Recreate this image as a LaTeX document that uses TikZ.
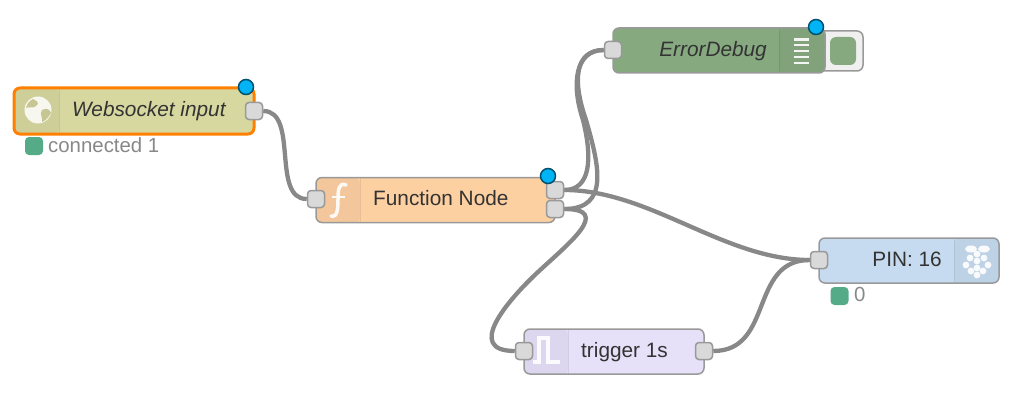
\documentclass[tikz,border=0pt]{standalone}
\usepackage{fontspec}
\setmainfont{Liberation Sans}
\usepackage{xcolor}
\usetikzlibrary{backgrounds}
\definecolor{wireGray}{HTML}{888888}
\definecolor{edgeGray}{HTML}{999999}
\definecolor{portGray}{HTML}{D9D9D9}
\definecolor{textDark}{HTML}{333333}
\definecolor{dotBlue}{HTML}{00B4F5}
\definecolor{statusGreen}{HTML}{55AA88}
\definecolor{wsFill}{HTML}{D7D7A0}
\definecolor{fnFill}{HTML}{FDD0A2}
\definecolor{dbgFill}{HTML}{87A980}
\definecolor{pinFill}{HTML}{C6DBEF}
\definecolor{trigFill}{HTML}{E6E0F8}

\begin{document}
\begin{tikzpicture}[
  x=1pt, y=-1pt,
  baseNode/.style={rectangle, rounded corners=6pt, draw=edgeGray, line width=1.5pt, inner sep=0pt, minimum height=45pt},
  iconLeft/.style={path picture={
    \fill[black, opacity=.04] (path picture bounding box.north west) rectangle ++(#1,46);
    \draw[black, opacity=.08, line width=1pt] (path picture bounding box.north west) ++(#1,0) -- ++(0,46);}},
  iconRight/.style={path picture={
    \fill[black, opacity=.04] (path picture bounding box.north east) rectangle ++(-#1,46);
    \draw[black, opacity=.08, line width=1pt] (path picture bounding box.north east) ++(-#1,0) -- ++(0,46);}},
  port/.style={rectangle, rounded corners=3.5pt, draw=edgeGray, fill=portGray, line width=1.5pt, inner sep=0pt, minimum size=17pt},
  changedDot/.style={circle, draw=black!55!dotBlue, fill=dotBlue, line width=1.5pt, inner sep=0pt, minimum size=15pt},
  statusDot/.style={rectangle, rounded corners=4pt, fill=statusGreen, inner sep=0pt, minimum size=18pt},
  nodeText/.style={font=\fontsize{20.8}{24}\selectfont, text=textDark, inner sep=0pt, text height=15pt, text depth=4pt},
  statusText/.style={font=\fontsize{20.4}{24}\selectfont, text=wireGray, inner sep=0pt, text height=14pt, text depth=4pt},
  wire/.style={draw=wireGray, line width=4.3pt},
  iconLine/.style={white, line width=3.5pt, opacity=.9}
]
\useasboundingbox (0,0) rectangle (1032,417);

% debug button sits behind the node
\node[rectangle, rounded corners=6pt, draw=edgeGray, fill=black!6, line width=1.5pt, minimum width=50pt, minimum height=40pt, inner sep=0pt] (dbgButton) at (838,51) {};
\node[rectangle, rounded corners=6pt, fill=dbgFill, minimum width=26pt, minimum height=28pt, inner sep=0pt] (dbgButtonFill) at (843,51) {};

\node[baseNode, fill=wsFill, draw=orange, line width=3pt, minimum width=240pt, minimum height=46pt, iconLeft=45] (ws) at (134,111) {};
\node[baseNode, fill=fnFill, minimum width=239pt, iconLeft=44] (fn) at (435.5,200) {};
\node[baseNode, fill=dbgFill, minimum width=212pt, iconRight=46] (dbg) at (719,50.5) {};
\node[baseNode, fill=pinFill, minimum width=180pt, iconRight=45] (pin) at (909,260.5) {};
\node[baseNode, fill=trigFill, minimum width=180pt, iconLeft=44] (trig) at (614,351.5) {};

\node[nodeText, anchor=west, font=\fontsize{20.8}{24}\selectfont\itshape] (wsLabel) at (72,111) {Websocket input};
\node[nodeText, anchor=west] (fnLabel) at (373,200) {Function Node};
\node[nodeText, anchor=east, font=\fontsize{20.8}{24}\selectfont\itshape] (dbgLabel) at (767,51) {ErrorDebug};
\node[nodeText, anchor=east] (pinLabel) at (942,261) {PIN: 16};
\node[nodeText, anchor=west] (trigLabel) at (581,352) {trigger 1s};

\node[port] (wsOut) at (254,111) {};
\node[port] (fnIn) at (316,199) {};
\node[port] (fnOutA) at (555,190) {};
\node[port] (fnOutB) at (555,209) {};
\node[port] (dbgIn) at (613,50) {};
\node[port] (pinIn) at (819,260) {};
\node[port] (trigIn) at (524,351) {};
\node[port] (trigOut) at (704,351) {};

\node[changedDot] (wsDot) at (246,87) {};
\node[changedDot] (fnDot) at (548,176) {};
\node[changedDot] (dbgDot) at (816,27) {};

\node[statusDot] (wsStatus) at (34,146) {};
\node[statusText, anchor=west] (wsStatusText) at (48,147) {connected 1};
\node[statusDot] (pinStatus) at (839.5,296) {};
\node[statusText, anchor=west] (pinStatusText) at (854,296) {0};

% icons
\fill[white, opacity=.85] (38,110) circle (13.5);
\fill[wsFill!92!black] (33,99) .. controls (37,101) and (40,103) .. (36,106) .. controls (33,109) and (29,106) .. (26,108) .. controls (27,104) and (29,101) .. cycle;
\fill[wsFill!92!black] (42,110) .. controls (47,107) and (50,110) .. (51,113) .. controls (48,118) and (45,121) .. (42,122) .. controls (43,117) and (39,114) .. cycle;
\draw[iconLine, line cap=round] (346,185) .. controls (339,182) and (338,190) .. (338,198) .. controls (338,207) and (338,218) .. (331,216);
\draw[white, line width=2.5pt, opacity=.9] (332,197) -- (345,197);
\draw[iconLine] (533,362) -- (539,362) -- (539,338) -- (548,338) -- (548,362) -- (560,362);
\foreach \y in {39.5,45,51,57,63}
  \draw[white, line width=2.2pt, opacity=.9] (794,\y) -- (809,\y);
\fill[white, opacity=.9] (971,249) ellipse (6 and 3.5) (984,249) ellipse (6 and 3.5);
\foreach \cx/\cy in {977/254,970/258,984/258,977/261,966/265,977/268,988/265,971/271,983/271,977/275}
  \fill[white, opacity=.9] (\cx,\cy) circle (3.4);

\begin{pgfonlayer}{background}
\coordinate (bendA) at (583,120);
\coordinate (bendB) at (586,120);
\coordinate (bendC) at (538,272);
\draw[wire] (wsOut) .. controls +(45,0) and +(-45,0) .. (fnIn);
\draw[wire] (fnOutA) .. controls +(35,0) and +(10,40) .. (bendA) .. controls +(-12,-36) and +(-38,0) .. (dbgIn);
\draw[wire] (fnOutB) .. controls +(55,0) and +(13,45) .. (bendB) .. controls +(-14,-40) and +(-38,0) .. (dbgIn);
\draw[wire] (fnOutA) .. controls +(95,0) and +(-95,0) .. (pinIn);
\draw[wire] (fnOutB) .. controls +(58,0) and +(30,-28) .. (bendC) .. controls +(-30,28) and +(-60,0) .. (trigIn);
\draw[wire] (trigOut) .. controls +(70,0) and +(-70,0) .. (pinIn);
\end{pgfonlayer}
\end{tikzpicture}
\end{document}
